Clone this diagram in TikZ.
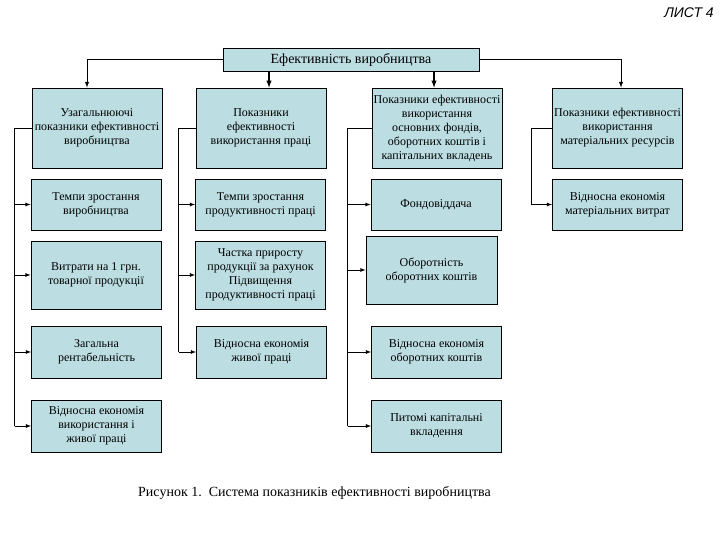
\documentclass[tikz,border=0pt]{standalone}
\usepackage{fontspec}
\setmainfont{Liberation Serif}
\newfontfamily\sheetfont{Liberation Sans}
\definecolor{boxfill}{RGB}{188,222,226}
\tikzset{
  ibox/.style={draw, line width=0.8pt, fill=boxfill, align=center, inner sep=1pt,
    minimum width=130pt, font=\fontsize{12}{14}\selectfont},
  link/.style={line width=0.8pt, -latex},
  trunk/.style={line width=0.8pt}
}
\begin{document}
\begin{tikzpicture}[x=1pt,y=-1pt]
\useasboundingbox (0,0) rectangle (720,540);
% title and sheet mark
\node[font=\sheetfont\itshape\fontsize{14}{16}\selectfont] (sheet) at (689,13) {ЛИСТ 4};
\node[ibox, minimum width=256pt, minimum height=23pt, font=\fontsize{14}{16}\selectfont] (top) at (351,59.5) {Ефективність виробництва};
% first row
\node[ibox, minimum height=80pt] (b11) at (97,128) {Узагальнюючі\\показники ефективності\\виробництва};
\node[ibox, minimum height=80pt] (b12) at (261,128) {Показники\\ефективності\\використання праці};
\node[ibox, minimum height=80pt] (b13) at (437,128) {Показники ефективності\\використання\\основних фондів,\\оборотних коштів і\\капітальних вкладень};
\node[ibox, minimum height=80pt] (b14) at (617.5,128) {Показники ефективності\\використання\\матеріальних ресурсів};
% second row
\node[ibox, minimum height=51pt] (b21) at (96,204.5) {Темпи зростання\\виробництва};
\node[ibox, minimum height=51pt] (b22) at (260.5,204.5) {Темпи зростання\\продуктивності праці};
\node[ibox, minimum height=51pt] (b23) at (436,204.5) {Фондовіддача};
\node[ibox, minimum height=51pt] (b24) at (617.5,204.5) {Відносна економія\\матеріальних витрат};
% third row
\node[ibox, minimum height=68pt] (b31) at (96,275) {Витрати на 1 грн.\\товарної продукції};
\node[ibox, minimum height=68pt] (b32) at (260.5,275) {Частка приросту\\продукції за рахунок\\Підвищення\\продуктивності праці};
\node[ibox, minimum height=68pt, minimum width=131pt] (b33) at (431.5,270) {Оборотність\\оборотних коштів};
% fourth row
\node[ibox, minimum height=52pt] (b41) at (96.5,352) {Загальна\\рентабельність};
\node[ibox, minimum height=52pt] (b42) at (261.5,352) {Відносна економія\\живої праці};
\node[ibox, minimum height=52pt] (b43) at (436.5,352) {Відносна економія\\оборотних коштів};
% fifth row
\node[ibox, minimum height=52pt] (b51) at (96.5,426) {Відносна економія\\використання і\\живої праці};
\node[ibox, minimum height=52pt] (b53) at (436.5,426) {Питомі капітальні\\вкладення};
% caption
\node[font=\fontsize{14}{16}\selectfont] (cap) at (314.5,493) {Рисунок 1.\ \ Система показників ефективності виробництва};
% top connectors
\draw[link, line width=1pt] (top.west) -| ([xshift=-10pt]b11.north);
\draw[link, line width=1.4pt] ([xshift=8pt]b12.north |- top.south) -- ([xshift=8pt]b12.north);
\draw[link, line width=1.4pt] ([xshift=-3pt]b13.north |- top.south) -- ([xshift=-3pt]b13.north);
\draw[link, line width=1pt] (top.east) -| ([xshift=3.5pt]b14.north);
% side trunks
\coordinate (t1) at ([xshift=-17pt]b11.west);
\coordinate (t2) at ([xshift=-17pt]b12.west);
\coordinate (t3) at ([xshift=-24pt]b13.west);
\coordinate (t4) at ([xshift=-21pt]b14.west);
\draw[trunk] (b11.west) -- (t1) -- (t1 |- b51.west);
\draw[trunk] (b12.west) -- (t2) -- (t2 |- b42.west);
\draw[trunk] (b13.west) -- (t3) -- (t3 |- b53.west);
\draw[trunk] (b14.west) -- (t4) -- (t4 |- b24.west);
\foreach \b in {b21,b31,b41,b51} \draw[link] (t1 |- \b.west) -- (\b.west);
\foreach \b in {b22,b32,b42} \draw[link] (t2 |- \b.west) -- (\b.west);
\foreach \b in {b23,b33,b43,b53} \draw[link] (t3 |- \b.west) -- (\b.west);
\draw[link] (t4 |- b24.west) -- (b24.west);
\end{tikzpicture}
\end{document}
